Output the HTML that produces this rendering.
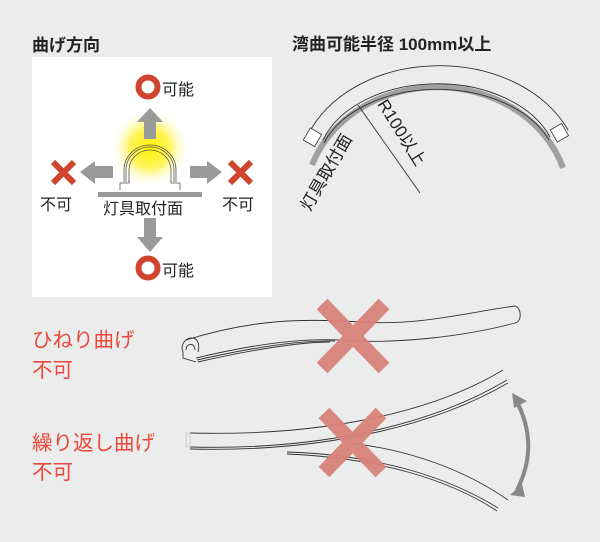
<!DOCTYPE html>
<html><head><meta charset="utf-8"><style>
html,body{margin:0;padding:0;background:#ececec;}
svg{display:block}
text{font-family:"Liberation Sans","Noto Sans CJK JP",sans-serif;}
</style></head><body>
<svg width="600" height="542" viewBox="0 0 600 542" xmlns="http://www.w3.org/2000/svg">
<defs>
<radialGradient id="glow" cx="0.5" cy="0.5" r="0.5">
<stop offset="0" stop-color="#fff200" stop-opacity="1"/>
<stop offset="0.5" stop-color="#fff34a" stop-opacity="0.9"/>
<stop offset="1" stop-color="#ffffff" stop-opacity="0"/>
</radialGradient>
</defs>
<rect width="600" height="542" fill="#ececec"/>
<text x="32" y="51" font-size="17" font-weight="bold" fill="#222">曲げ方向</text>
<rect x="32" y="57" width="240" height="240" fill="#fff"/>
<circle cx="150" cy="148" r="40" fill="url(#glow)"/>
<circle cx="148" cy="87" r="9.5" fill="none" stroke="#d0452f" stroke-width="6"/>
<text x="162" y="95" font-size="16" fill="#222">可能</text>
<circle cx="148" cy="268" r="9.5" fill="none" stroke="#d0452f" stroke-width="6"/>
<text x="162" y="276" font-size="16" fill="#222">可能</text>
<g fill="#9a9a9a">
<polygon points="150,108 137,122 144,122 144,139 156,139 156,122 163,122"/>
<polygon points="150,252 137,237 144,237 144,218 156,218 156,237 163,237"/>
<polygon points="80,172 95,161 95,166 113,166 113,178 95,178 95,184"/>
<polygon points="222,172 207,161 207,166 190,166 190,178 207,178 207,184"/>
<rect x="98" y="192" width="104" height="5"/>
</g>
<g stroke="#d0452f" stroke-width="6">
<line x1="53" y1="162" x2="74" y2="183"/><line x1="74" y1="162" x2="53" y2="183"/>
<line x1="230" y1="162" x2="251" y2="183"/><line x1="251" y1="162" x2="230" y2="183"/>
</g>
<text x="40" y="210" font-size="16" fill="#222">不可</text>
<text x="222" y="210" font-size="16" fill="#222">不可</text>
<text x="103" y="214" font-size="16" fill="#222">灯具取付面</text>
<g fill="none" stroke="#555" stroke-width="0.8">
<path d="M124,182 L124,170 A26,25 0 0 1 176,170 L176,182"/>
<path d="M126,182 L126,170 A24,23 0 0 1 174,170 L174,182"/>
<path d="M129,182 L129,170 A21,20 0 0 1 171,170 L171,182"/>
<path d="M120,190 L120,183 L129,183 L129,180 M171,180 L171,183 L180,183 L180,190"/>
</g>
<text x="292" y="50" font-size="17" font-weight="bold" fill="#222">湾曲可能半径 100mm以上</text>
<path d="M312,165 A132,115 0 0 1 563,168" fill="none" stroke="#a0a0a0" stroke-width="6"/>
<path d="M307,137 A140,106 0 0 1 568,130" fill="none" stroke="#333" stroke-width="0.9"/>
<path d="M323,140 A120,81 0 0 1 550,137" fill="none" stroke="#333" stroke-width="0.9"/>
<path d="M324,143 A120,80 0 0 1 549,140" fill="none" stroke="#333" stroke-width="0.9"/>
<rect x="306" y="130" width="13" height="14" fill="#fff" stroke="#333" stroke-width="0.8" transform="rotate(30 312 137)"/>
<rect x="553" y="126" width="13" height="14" fill="#fff" stroke="#333" stroke-width="0.8" transform="rotate(-30 559 133)"/>
<line x1="358" y1="105" x2="420" y2="193" stroke="#333" stroke-width="0.9"/>
<text x="0" y="0" font-size="17" fill="#222" transform="translate(377,104) rotate(58)">R100以上</text>
<text x="0" y="0" font-size="17" fill="#222" transform="translate(310,212) rotate(-60)">灯具取付面</text>
<g font-size="20.5" fill="#e8493a">
<text x="32" y="347">ひねり曲げ</text>
<text x="32" y="377">不可</text>
<text x="32" y="450">繰り返し曲げ</text>
<text x="32" y="479">不可</text>
</g>
<g fill="none" stroke="#333" stroke-width="0.9">
<path d="M186,340 C250,320 300,318 360,322 C420,326 470,312 515,306"/>
<path d="M196,358 C250,345 300,338 340,340 C400,345 470,335 515,323"/>
<path d="M198,362 C250,350 300,342 330,342"/>
<path d="M197,360 C250,348 300,340 335,341"/>
<path d="M515,306 C522,308 522,322 515,323"/>
<path d="M183,352 C180,345 185,338 192,338 C198,338 200,345 198,352 M186,350 C186,343 195,342 195,350"/>
<path d="M183,352 L183,358 L196,362"/>
</g>
<g fill="none" stroke="#333" stroke-width="0.9">
<path d="M190,433 C300,436 420,420 503,370"/>
<path d="M190,447 C300,450 420,432 507,380"/>
<path d="M190,449 C300,452 420,434 508,383"/>
<path d="M350,443 C410,450 465,470 508,500"/>
<path d="M287,452 C380,455 450,478 498,508"/>
<path d="M287,454 C380,458 450,480 497,511"/>
</g>
<rect x="186" y="433" width="4" height="14" fill="none" stroke="#ccc" stroke-width="0.8"/>
<path d="M516,400 Q540,445 517,490" fill="none" stroke="#888" stroke-width="4"/>
<polygon points="512,393 527,401 514,408" fill="#888"/>
<polygon points="510,495 522,484 525,497" fill="#888"/>
<g stroke="#d9837a" stroke-width="15" opacity="0.95">
<line x1="322" y1="304" x2="384" y2="368"/><line x1="384" y1="304" x2="322" y2="368"/>
<line x1="324" y1="413" x2="381" y2="472"/><line x1="381" y1="413" x2="324" y2="472"/>
</g>
</svg>
</body></html>
